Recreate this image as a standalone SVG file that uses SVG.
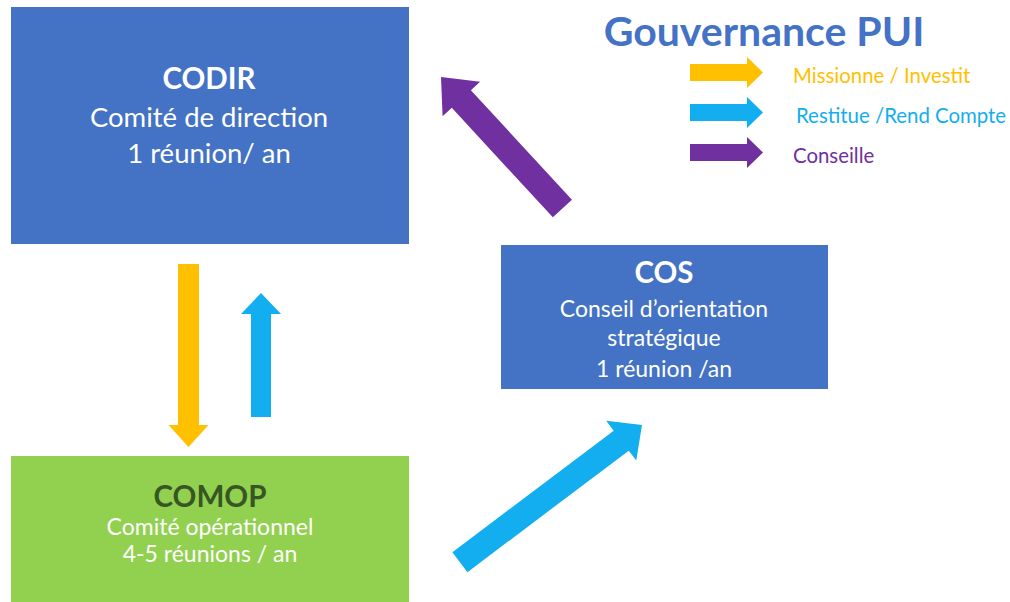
<svg xmlns="http://www.w3.org/2000/svg" width="1010" height="602" viewBox="0 0 1010 602">
<defs>
<style>
text{font-family:Lato,"Open Sans","Liberation Sans",sans-serif;text-anchor:middle}
.box{fill:#4472C4}
.green{fill:#92D050}
.t{fill:#ffffff;font-size:27.5px}
.ts{fill:#ffffff;font-size:23px}
.h{fill:#ffffff;font-size:29.5px;font-weight:bold}
.leg{font-size:20.4px;text-anchor:start}
.y{fill:#FFC000}.b{fill:#12AEEF}.p{fill:#7030A0}
</style>
</defs>
<rect width="1010" height="602" fill="#ffffff"/>
<g id="title">
<text x="764" y="46" style="font-size:41px;font-weight:bold;fill:#4472C4">Gouvernance PUI</text>
</g>
<g id="legend">
<polygon class="y" transform="translate(763,72.5)" points="-73,-8.5 -16,-8.5 -16,-15.5 0,0 -16,15.5 -16,8.5 -73,8.5"/>
<polygon class="b" transform="translate(763,112.5)" points="-73,-8.5 -16,-8.5 -16,-15.5 0,0 -16,15.5 -16,8.5 -73,8.5"/>
<polygon class="p" transform="translate(763,152.5)" points="-73,-8.5 -16,-8.5 -16,-15.5 0,0 -16,15.5 -16,8.5 -73,8.5"/>
<text class="leg y" x="793" y="83">Missionne / Investit</text>
<text class="leg b" x="796" y="123">Restitue /Rend Compte</text>
<text class="leg p" x="793" y="163">Conseille</text>
</g>
<g id="codir">
<rect class="box" x="11" y="7" width="398" height="237"/>
<text class="h" x="209" y="89">CODIR</text>
<text class="t" x="209" y="127">Comité de direction</text>
<text class="t" x="209" y="163">1 réunion/ an</text>
</g>
<g id="cos">
<rect class="box" x="501" y="245" width="327" height="144"/>
<text class="h" x="664" y="283">COS</text>
<text class="ts" x="664" y="317">Conseil d’orientation</text>
<text class="ts" x="664" y="346">stratégique</text>
<text class="ts" x="664" y="377">1 réunion /an</text>
</g>
<g id="comop">
<rect class="green" x="11" y="456" width="398" height="146"/>
<text class="h" x="210" y="507" style="fill:#375623">COMOP</text>
<text class="ts" x="210" y="535">Comité opérationnel</text>
<text class="ts" x="210" y="562">4-5 réunions / an</text>
</g>
<g id="connectors">
<polygon class="y" transform="translate(188.5,447) rotate(90)" points="-183,-10.5 -22,-10.5 -22,-20 0,0 -22,20 -22,10.5 -183,10.5"/>
<polygon class="b" transform="translate(261,293) rotate(-90)" points="-124,-10 -21,-10 -21,-20 0,0 -21,20 -21,10 -124,10"/>
<polygon class="p" transform="translate(441,77) rotate(227.3)" points="-179,-13 -30,-13 -30,-25.5 0,0 -30,25.5 -30,13 -179,13"/>
<polygon class="b" transform="translate(642,425) rotate(-37)" points="-228,-12.5 -26,-12.5 -26,-25 0,0 -26,25 -26,12.5 -228,12.5"/>
</g>
</svg>
